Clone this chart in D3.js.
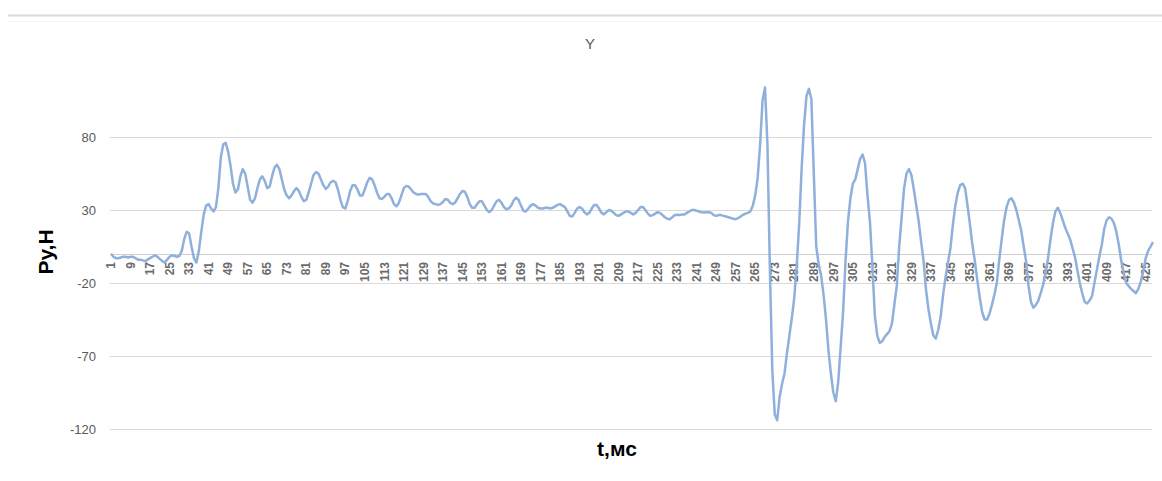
<!DOCTYPE html>
<html>
<head>
<meta charset="utf-8">
<script src="https://cdn.jsdelivr.net/npm/d3@7"></script>
<style>
  html, body { margin: 0; padding: 0; background: #fff; }
  svg { display: block; }
  text { font-family: "Liberation Sans", Arial, sans-serif; }
</style>
</head>
<body>
<svg id="chart" width="1162" height="481"></svg>
<script>
// ---- data ----
const chartTitle = "Y";
const yAxisTitle = "Py,H";
const xAxisTitle = "t,мс";
const yTicks = [-120, -70, -20, 30, 80];
const labelStep = 8;
const values = [
  0, -2, -3, -3, -2.5, -2, -2, -2.5, -2, -2,
  -3, -4, -4, -4.5, -5, -4, -3, -2, -1, -2,
  -3.5, -5, -6, -4, -2, -1, -1.5, -2, -1.5, 2,
  10, 15, 14, 5, -3, -6, 2, 15, 27, 33,
  34, 31, 29, 32, 45, 66, 75, 76, 70, 60,
  48, 42, 44, 53, 58, 55, 46, 37, 35, 38,
  45, 51, 53, 50, 45, 46, 53, 59, 61, 58,
  51, 44, 40, 38, 40, 43, 45, 43, 39, 36,
  37, 42, 48, 54, 56, 55, 51, 47, 44.5, 46,
  49, 50, 49, 44, 37, 32, 31, 36, 43, 47,
  47, 44, 40, 40, 44, 49, 52, 51, 47, 42,
  38, 37.5, 39, 41, 41, 38, 34, 32.5, 35, 40,
  45, 46.5, 46, 44, 42, 41, 40.5, 41, 41, 41,
  39, 36, 34.5, 34, 33.5, 34, 35.5, 37.5, 37, 35,
  34, 35, 38, 41, 43, 42.5, 39, 34, 31.5, 31.5,
  34, 36, 36, 33, 30, 28.5, 30, 33, 36, 37,
  35, 32, 30.5, 31, 33, 36.5, 38.5, 37, 33, 29.5,
  29, 31, 33, 34, 33, 31.5, 31, 31, 31.5, 31.5,
  31, 31.5, 32.5, 33.5, 34, 33, 32, 29, 26, 25.5,
  28, 31, 32, 31, 28.5, 27, 28, 31, 33.5, 33.5,
  31, 28, 27, 28.5, 30, 29.5, 28, 26.5, 26, 27,
  28, 29, 29, 28, 27, 28, 30, 32, 32, 30,
  27.5, 26, 26.5, 27.5, 28.5, 28, 26.5, 25, 24, 23.7,
  25, 26.5, 26.7, 26.5, 27, 27, 28, 29, 30, 30,
  29.5, 29, 28.5, 28.3, 28.5, 28.5, 28, 26.5, 26, 26.5,
  26.5, 26, 25.5, 25, 24.5, 24, 23.7, 24.5, 25.5, 26.7,
  27.5, 28, 29, 33, 40, 52, 75, 105, 114, 75,
  -10, -80, -110, -114, -98, -89, -82, -68, -56, -44,
  -30, -8, 20, 58, 88, 108, 113, 106, 55, 5,
  -7, -15, -28, -45, -66, -82, -95, -101, -88, -64,
  -40, -5, 22, 38, 48, 51, 58, 65, 68, 62,
  40, 22, -8, -42, -56, -61, -60, -57, -55, -53,
  -48, -35, -22, 5, 25, 45, 55, 58, 54, 44,
  33, 22, 8, -5, -25, -38, -48, -56, -58, -52,
  -43, -28, -16, -6, 4, 20, 33, 42, 47, 48,
  45, 33, 20, 6, -5, -18, -30, -40, -45, -45,
  -41, -35, -28, -20, -4, 10, 23, 32, 37, 38,
  35, 30, 23, 16, 5, -5, -22, -33, -37, -35,
  -32, -27, -21, -12, -3, 10, 21, 29, 31.5, 28,
  23, 18, 14, 10, 4, -2, -11, -20, -27, -33,
  -34, -32, -29, -20, -11, -2, 6, 17, 23, 25,
  24, 21, 15, 6, -5, -13, -20, -22, -24, -25.5,
  -27, -24, -19, -12, -3, 2, 5, 8
];
const categories = values.map((v, i) => i + 1);

// ---- layout ----
const svg = d3.select("#chart");
const left = 111, right = 1153;
const x = d3.scalePoint().domain(categories).range([left, right]);
const y = d3.scaleLinear().domain([-120, 80]).range([429, 137]);

// faint strip at the very top (cropped neighbour chart)
svg.append("line").attr("x1", 8).attr("x2", 1162).attr("y1", 15.5).attr("y2", 15.5)
  .attr("stroke", "#dcdcdc").attr("stroke-width", 2);
svg.append("line").attr("x1", 8).attr("x2", 1162).attr("y1", 21.5).attr("y2", 21.5)
  .attr("stroke", "#f4f4f4").attr("stroke-width", 1);

// gridlines
svg.append("g").selectAll("line").data(yTicks).join("line")
  .attr("x1", left - 1).attr("x2", right - 1)
  .attr("y1", d => Math.round(y(d)) + 0.5).attr("y2", d => Math.round(y(d)) + 0.5)
  .attr("stroke", "#d9d9d9").attr("stroke-width", 1);

// y tick labels
svg.append("g").selectAll("text").data(yTicks).join("text")
  .attr("x", 96).attr("y", d => y(d)).attr("dy", "0.35em")
  .attr("text-anchor", "end").attr("font-size", 13).attr("fill", "#595959")
  .text(d => d);

// zero axis line
svg.append("line").attr("x1", left - 1).attr("x2", right - 1)
  .attr("y1", Math.round(y(0)) + 0.5).attr("y2", Math.round(y(0)) + 0.5)
  .attr("stroke", "#d0d0d0").attr("stroke-width", 1);

// x category labels (rotated)
const xLabels = categories.filter((c, i) => i % labelStep === 0);
svg.append("g").selectAll("text").data(xLabels).join("text")
  .attr("transform", d => `translate(${x(d)},262) rotate(-90)`)
  .attr("text-anchor", "end").attr("dy", "0.35em")
  .attr("font-size", 12).attr("font-weight", "bold").attr("fill", "#6b6b6b")
  .text(d => d);

// data line
const line = d3.line().x((d, i) => x(categories[i])).y(d => y(d));
svg.append("path").datum(values)
  .attr("d", line).attr("fill", "none")
  .attr("stroke", "#8fb0dc").attr("stroke-width", 2.5)
  .attr("stroke-linejoin", "round");

// titles
svg.append("text").attr("x", 590).attr("y", 49).attr("text-anchor", "middle")
  .attr("font-size", 15).attr("fill", "#595959").text(chartTitle);
svg.append("text").attr("transform", "translate(53,252) rotate(-90)")
  .attr("text-anchor", "middle").attr("font-size", 21).attr("font-weight", "bold")
  .attr("fill", "#000").text(yAxisTitle);
svg.append("text").attr("x", 617).attr("y", 456).attr("text-anchor", "middle")
  .attr("font-size", 21).attr("font-weight", "bold").attr("fill", "#000").text(xAxisTitle);
</script>
</body>
</html>
